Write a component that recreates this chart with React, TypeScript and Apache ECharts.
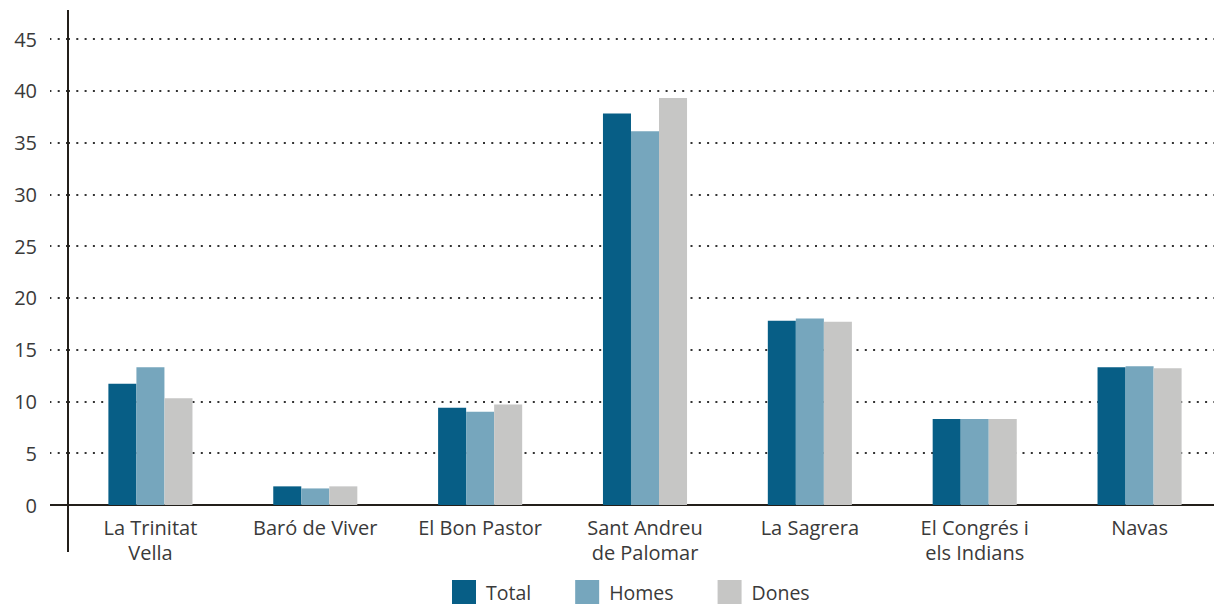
import React, { useEffect, useRef } from "react";
import * as echarts from "echarts";

const categories = [
  "La Trinitat\nVella",
  "Baró de Viver",
  "El Bon Pastor",
  "Sant Andreu\nde Palomar",
  "La Sagrera",
  "El Congrés i\nels Indians",
  "Navas",
];
const total = [11.7, 1.8, 9.4, 37.8, 17.8, 8.3, 13.3];
const homes = [13.3, 1.6, 9.0, 36.1, 18.0, 8.3, 13.4];
const dones = [10.3, 1.8, 9.7, 39.3, 17.7, 8.3, 13.2];
const seriesNames = ["Total", "Homes", "Dones"];
const colors = ["#075e86", "#76a6bd", "#c6c6c5"];

const FONT = "'Open Sans', 'Noto Sans', sans-serif";
const TEXT = "#3a3a3a";
const AXIS = "#231f1a";

export default function App() {
  const ref = useRef<HTMLDivElement>(null);
  useEffect(() => {
    document.body.style.margin = "0";
    const chart = echarts.init(ref.current!, null, { renderer: "svg" });
    const dataSets = [total, homes, dones];
    chart.setOption({
      animation: false,
      textStyle: { fontFamily: FONT },
      grid: { left: 68, top: 39, right: 8, bottom: 100, containLabel: false },
      legend: {
        top: 580,
        left: 452,
        padding: 0,
        itemWidth: 24,
        itemHeight: 24,
        itemGap: 44,
        icon: "rect",
        textStyle: { fontSize: 19.5, color: TEXT, fontFamily: FONT, padding: [0, 0, 0, 5] },
        data: seriesNames,
      },
      xAxis: {
        type: "category",
        data: categories,
        axisLine: { show: true, lineStyle: { color: AXIS, width: 2 } },
        axisTick: { show: false },
        axisLabel: {
          color: TEXT,
          fontSize: 20,
          fontFamily: FONT,
          margin: 10,
          lineHeight: 25,
          interval: 0,
        },
      },
      yAxis: {
        type: "value",
        min: 0,
        max: 45,
        interval: 5,
        axisLine: { show: false },
        axisTick: {
          show: true,
          length: 18,
          lineStyle: { color: "#333", width: 2, type: [2, 6.3] },
        },
        axisLabel: { color: TEXT, fontSize: 20, fontFamily: FONT, margin: 31 },
        splitLine: {
          show: true,
          lineStyle: { color: "#333", width: 2, type: [2, 6.3] },
        },
      },
      series: seriesNames.map((name, i) => ({
        name,
        type: "bar",
        data: dataSets[i],
        itemStyle: { color: colors[i] },
        barGap: "0%",
        barCategoryGap: "49%",
      })),
      graphic: [
        {
          type: "line",
          shape: { x1: 68, y1: 10, x2: 68, y2: 552 },
          style: { stroke: AXIS, lineWidth: 2 },
          z: 100,
        },
        {
          type: "line",
          shape: { x1: 50, y1: 505, x2: 68, y2: 505 },
          style: { stroke: AXIS, lineWidth: 2 },
          z: 100,
        },
      ],
    });
    return () => chart.dispose();
  }, []);
  return (
    <div style={{ width: 1214, height: 605, overflow: "hidden", position: "relative" }}>
      <div ref={ref} style={{ width: 1230, height: 605 }} />
    </div>
  );
}
